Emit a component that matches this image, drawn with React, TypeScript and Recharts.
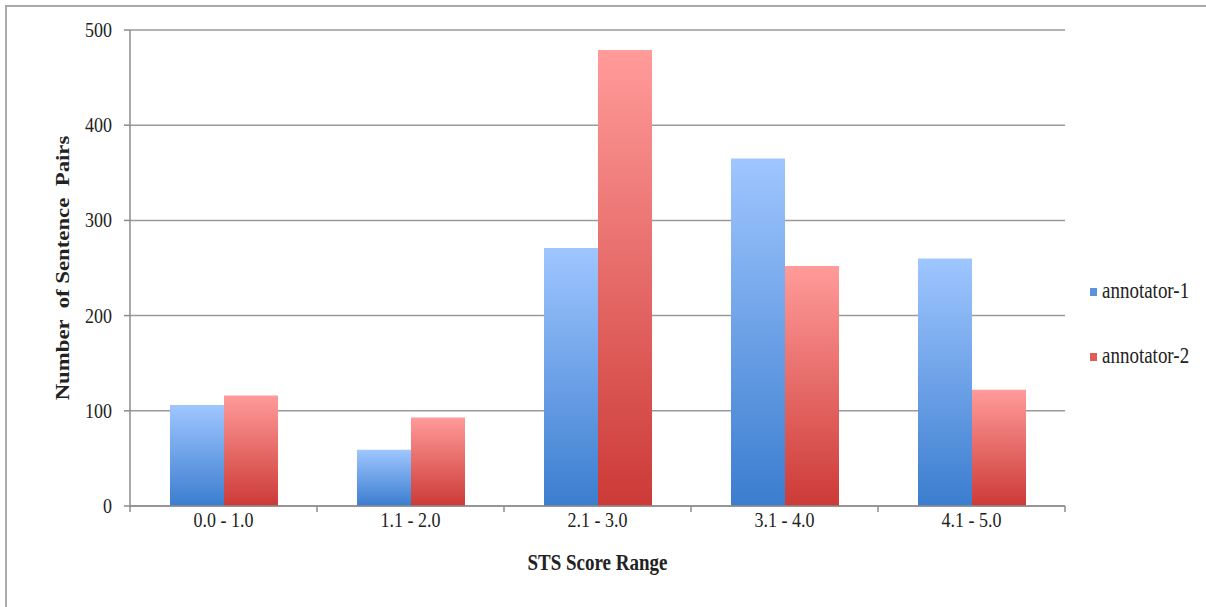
import React from 'react';
import { BarChart, Bar, XAxis, YAxis, CartesianGrid, Legend, Label } from 'recharts';

const categories = ['0.0 - 1.0', '1.1 - 2.0', '2.1 - 3.0', '3.1 - 4.0', '4.1 - 5.0'];
const annotator1 = [106, 59, 271, 365, 260];
const annotator2 = [116, 93, 479, 252, 122];
const yTicks = [0, 100, 200, 300, 400, 500];
const seriesNames = ['annotator-1', 'annotator-2'];
const xTitle = 'STS Score Range';
const yTitle = 'Number  of Sentence  Pairs';

const data = categories.map((c, i) => ({ range: c, a1: annotator1[i], a2: annotator2[i] }));

const FONT = '"Liberation Serif", "Times New Roman", serif';
const TEXT = '#222';
const AXIS = '#8c8c8c';
const SY = 1.2;

const XTick = (props: any) => {
  const { x, y, payload, index, visibleTicksCount } = props;
  const off = payload.offset ?? 0;
  const axisY = y - 8;
  const isLast =
    visibleTicksCount != null ? index === visibleTicksCount - 1 : payload.value === categories[categories.length - 1];
  return (
    <g>
      <line x1={x - off} x2={x - off} y1={axisY} y2={axisY + 6} stroke={AXIS} strokeWidth={1.5} />
      {isLast && <line x1={x + off} x2={x + off} y1={axisY} y2={axisY + 6} stroke={AXIS} strokeWidth={1.5} />}
      <text
        transform={`translate(${x},${y + 13}) scale(1,${SY})`}
        textAnchor="middle"
        fontSize={18}
        fill={TEXT}
        fontFamily={FONT}
      >
        {payload.value}
      </text>
    </g>
  );
};

const YTick = (props: any) => {
  const { x, y, payload } = props;
  return (
    <text
      transform={`translate(${x},${y + 7}) scale(1,${SY})`}
      textAnchor="end"
      fontSize={18}
      fill={TEXT}
      fontFamily={FONT}
    >
      {payload.value}
    </text>
  );
};

const XTitle = (props: any) => {
  const vb = props.viewBox;
  return (
    <text
      transform={`translate(${vb.x + vb.width / 2},${vb.y + vb.height + 34}) scale(1,${SY})`}
      textAnchor="middle"
      fontSize={19}
      fontWeight="bold"
      fill={TEXT}
      fontFamily={FONT}
    >
      {xTitle}
    </text>
  );
};

const YTitle = (props: any) => {
  const vb = props.viewBox;
  return (
    <text
      transform={`translate(${vb.x - 1},${vb.y + vb.height / 2}) rotate(-90) scale(${SY},1)`}
      textAnchor="middle"
      fontSize={19}
      fontWeight="bold"
      fill={TEXT}
      fontFamily={FONT}
      style={{ whiteSpace: 'pre' }}
    >
      {yTitle}
    </text>
  );
};

const LegendContent = () => {
  const colors = ['#5a93dd', '#e25b58'];
  return (
    <svg width={118} height={90}>
      {seriesNames.map((n, i) => (
        <g key={n} transform={`translate(0,${14 + i * 65})`}>
          <rect x={2} y={-4} width={7} height={8} fill={colors[i]} />
          <text
            transform={`translate(14,6) scale(1,${SY})`}
            fontSize={19}
            fill={TEXT}
            fontFamily={FONT}
          >
            {n}
          </text>
        </g>
      ))}
    </svg>
  );
};

export default function App() {
  return (
    <div style={{ position: 'absolute', left: 0, top: 0, width: 1206, height: 607, background: '#fff', overflow: 'hidden' }}>
      <div
        style={{
          position: 'absolute',
          left: 5,
          top: 5,
          width: 1210,
          height: 610,
          borderTop: '2px solid #aaa',
          borderLeft: '2px solid #aaa',
        }}
      />
      <div style={{ position: 'absolute', left: 0, top: 0 }}>
        <BarChart
          width={1206}
          height={607}
          data={data}
          margin={{ top: 30, right: 141, bottom: 71, left: 70 }}
          barCategoryGap={40}
          barGap={0}
        >
          <defs>
            <linearGradient id="blueGrad" x1="0" y1="0" x2="0" y2="1">
              <stop offset="0%" stopColor="#9fc6ff" />
              <stop offset="100%" stopColor="#3b7dcf" />
            </linearGradient>
            <linearGradient id="redGrad" x1="0" y1="0" x2="0" y2="1">
              <stop offset="0%" stopColor="#ff9b99" />
              <stop offset="100%" stopColor="#cc3a37" />
            </linearGradient>
          </defs>
          <CartesianGrid vertical={false} stroke="#9a9a9a" strokeWidth={1.5} />
          <XAxis
            dataKey="range"
            height={30}
            axisLine={{ stroke: AXIS, strokeWidth: 1.5 }}
            tickLine={false}
            tickSize={6}
            tickMargin={2}
            tick={<XTick />}
            interval={0}
          >
            <Label content={<XTitle />} />
          </XAxis>
          <YAxis
            width={60}
            domain={[0, 500]}
            ticks={yTicks}
            axisLine={{ stroke: AXIS, strokeWidth: 1.5 }}
            tickLine={{ stroke: AXIS, strokeWidth: 1.5 }}
            tickSize={6}
            tickMargin={12}
            tick={<YTick />}
            interval={0}
          >
            <Label content={<YTitle />} />
          </YAxis>
          <Legend
            layout="vertical"
            verticalAlign="middle"
            align="center"
            content={<LegendContent />}
            wrapperStyle={{ left: 1088, top: 278, width: 118, height: 90 }}
          />
          <Bar dataKey="a1" name={seriesNames[0]} fill="url(#blueGrad)" isAnimationActive={false} />
          <Bar dataKey="a2" name={seriesNames[1]} fill="url(#redGrad)" isAnimationActive={false} />
        </BarChart>
      </div>
    </div>
  );
}
